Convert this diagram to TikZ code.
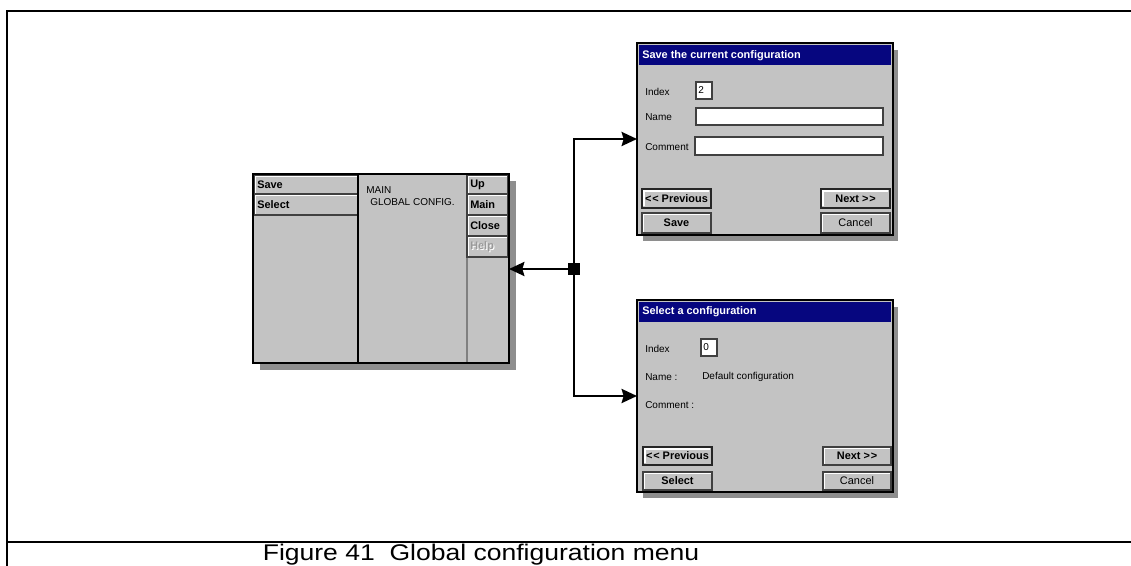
\documentclass[tikz,border=0pt]{standalone}
\usepackage{fontspec}
\setmainfont{Liberation Sans}
\usetikzlibrary{arrows.meta}
\definecolor{uigray}{HTML}{C3C3C3}
\definecolor{shadowgray}{HTML}{8E8E8E}
\definecolor{navy}{HTML}{06067F}
\definecolor{dkgray}{HTML}{404040}
\definecolor{midgray}{HTML}{808080}
\newcommand\uibtn[4]{%
  \fill[uigray] (#1,#2) rectangle (#3,#4);
  \draw[white,line width=0.8pt] (#1+1.2,#4-1.2) -- (#1+1.2,#2+1.2) -- (#3-1.2,#2+1.2);
  \draw[dkgray,line width=0.9pt] (#1,#2) rectangle (#3,#4);}
\newcommand\uibtnfocus[4]{%
  \fill[uigray] (#1,#2) rectangle (#3,#4);
  \draw[white,line width=0.8pt] (#1+2,#4-2) -- (#1+2,#2+2) -- (#3-2,#2+2);
  \draw[black!85,line width=1.5pt] (#1,#2) rectangle (#3,#4);}
\newcommand\lt{{<}\kern0.6pt{<}}
\newcommand\gt{{>}\kern0.6pt{>}}
\begin{document}
\begin{tikzpicture}[x=0.75pt,y=-0.75pt,
  win/.style={draw=black,line width=1.5pt,fill=uigray,inner sep=0pt,outer sep=0pt},
  uitext/.style={font=\fontsize{7.5}{8}\selectfont,inner sep=0pt,anchor=west},
  btntext/.style={font=\bfseries\fontsize{8.2}{9}\selectfont,inner sep=0pt},
  field/.style={fill=white,draw=dkgray,line width=0.8pt},
  conn/.style={line width=2pt,-{Stealth[length=11.5pt,width=10.5pt,inset=1.5pt]}}]
\useasboundingbox (0,0) rectangle (1131,566);
% frame
\draw[line width=1.6pt] (1131,11) -- (7,11) -- (7,566);
\draw[line width=1.6pt] (7,542) -- (1131,542);
\node[inner sep=0pt] (caption) at (481,555) {\scalebox{1.17}[1]{\fontsize{17}{18}\selectfont Figure 41\ \ Global configuration menu}};
% ---------------- menu window
\fill[shadowgray] (260,181) rectangle (516,370);
\node[win,minimum width=192pt,minimum height=141.75pt] (menu) at (381,268.5) {};
\uibtn{254}{175}{358}{194}
\uibtn{254}{194}{358}{215}
\node[btntext,anchor=west] (bsave) at (257,184.5) {Save};
\node[btntext,anchor=west] (bselect) at (257,205) {Select};
\draw[midgray,line width=0.8pt] (467,174) -- (467,363);
\draw[black,line width=1.2pt] (358,174) -- (358,363);
\uibtn{467}{175}{508}{194}
\uibtn{467}{194}{508}{215}
\uibtn{467}{215}{508}{236}
\uibtn{467}{236}{508}{257}
\node[btntext,anchor=west] (bup) at (470,184.5) {Up};
\node[btntext,anchor=west] (bmain) at (470,205) {Main};
\node[btntext,anchor=west] (bclose) at (470,226) {Close};
\node[btntext,anchor=west,text=white] (bhelpsh) at (471,247.5) {Help};
\node[btntext,anchor=west,text=black!40] (bhelp) at (470,246.5) {Help};
\node[uitext] (tmain) at (366,190) {MAIN};
\node[uitext] (tglob) at (370,202) {GLOBAL CONFIG.};
\draw[black,line width=1.5pt] (menu.north west) rectangle (menu.south east);
% ---------------- save dialog
\fill[shadowgray] (643,50) rectangle (898,241);
\node[win,minimum width=192pt,minimum height=144pt] (dlg1) at (765,139) {};
\fill[navy] (639,45) rectangle (891,65);
\node[btntext,text=white,anchor=west] (t1) at (642,55.5) {Save the current configuration};
\node[uitext] (l1idx) at (645,92) {Index};
\draw[field] (696,82) rectangle (712,99);
\node[uitext] (v1idx) at (698,90.5) {2};
\node[uitext] (l1name) at (645,117) {Name};
\draw[field] (696,108) rectangle (883,125);
\node[uitext] (l1com) at (645,147) {Comment};
\draw[field] (695,137) rectangle (883,155);
\uibtnfocus{642}{189}{711}{208}
\uibtnfocus{821}{189}{890}{208}
\uibtn{642}{213}{711}{233}
\uibtn{821}{213}{890}{233}
\node[btntext] (b1prev) at (676.5,198.5) {\lt\ Previous};
\node[btntext] (b1next) at (855.5,198.5) {Next \gt};
\node[btntext] (b1save) at (676.5,223) {Save};
\node[btntext,font=\fontsize{8.2}{9}\selectfont] (b1cancel) at (855.5,223) {Cancel};
% ---------------- select dialog
\fill[shadowgray] (643,307) rectangle (898,498);
\node[win,minimum width=192pt,minimum height=144pt] (dlg2) at (765,396) {};
\fill[navy] (639,302) rectangle (891,322);
\node[btntext,text=white,anchor=west] (t2) at (642,312) {Select a configuration};
\node[uitext] (l2idx) at (645,349) {Index};
\draw[field] (701,339) rectangle (717,356);
\node[uitext] (v2idx) at (703,347.5) {0};
\node[uitext] (l2name) at (645,377) {Name :};
\node[uitext] (v2name) at (702,377) {Default configuration};
\node[uitext] (l2com) at (645,405) {Comment :};
\uibtnfocus{643}{447}{712}{465}
\uibtn{823}{447}{891}{465}
\uibtn{643}{472}{712}{490}
\uibtn{823}{472}{891}{490}
\node[btntext] (b2prev) at (677.5,456) {\lt\ Previous};
\node[btntext] (b2next) at (857,456) {Next \gt};
\node[btntext] (b2sel) at (677.5,481) {Select};
\node[btntext,font=\fontsize{8.2}{9}\selectfont] (b2cancel) at (857,481) {Cancel};
% ---------------- connectors
\node[fill=black,minimum size=9pt,inner sep=0pt] (j) at (574,269) {};
\draw[conn] (j) -- (menu.east |- j);
\draw[conn] (j) |- (dlg1.west);
\draw[conn] (j) |- (dlg2.west);
\end{tikzpicture}
\end{document}
